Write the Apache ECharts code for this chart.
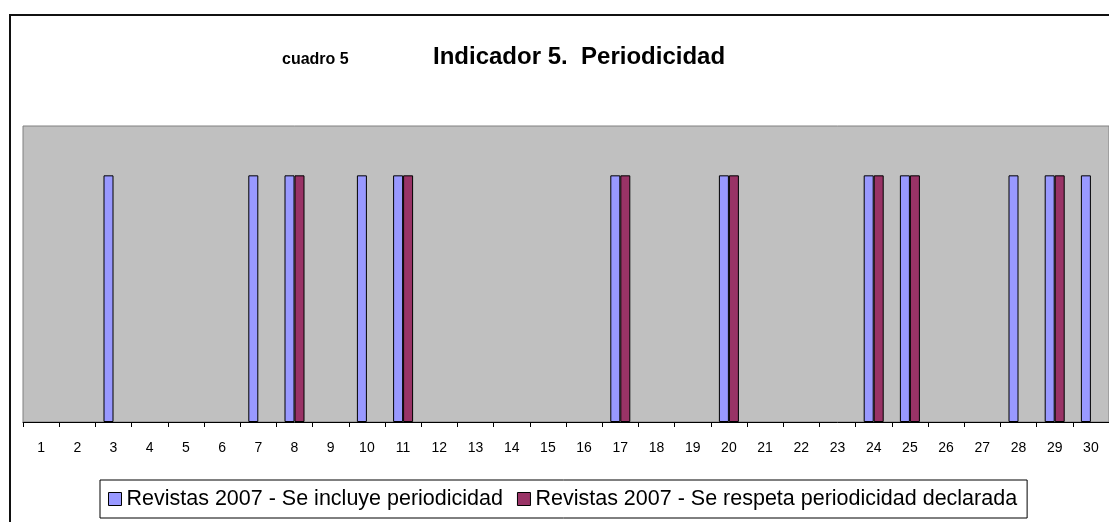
<!DOCTYPE html>
<html>
<head>
<meta charset="utf-8">
<script src="https://cdn.jsdelivr.net/npm/echarts@6/dist/echarts.min.js"></script>
<style>
  html, body { margin: 0; padding: 0; background: #fff; }
  #chart { width: 1109px; height: 522px; }
</style>
</head>
<body>
<div id="chart"></div>
<script>
// revistas 1..30
const categories = ['1','2','3','4','5','6','7','8','9','10','11','12','13','14','15',
  '16','17','18','19','20','21','22','23','24','25','26','27','28','29','30'];
// 1 = si, 0 = no
const incluye = [0,0,1,0,0,0,1,1,0,1,1,0,0,0,0,0,1,0,0,1,0,0,0,1,1,0,0,1,1,1];
const respeta = [0,0,0,0,0,0,0,1,0,0,1,0,0,0,0,0,1,0,0,1,0,0,0,1,1,0,0,0,1,0];

const font = 'Arial, "Liberation Sans", sans-serif';

// los ceros no se dibujan (como en excel)
function sinCeros(arr) {
  return arr.map(v => (v === 0 ? '-' : v));
}

var myChart = echarts.init(document.getElementById('chart'));
let option = {
  backgroundColor: '#fff',
  animation: false,
  title: [
    {
      text: 'Indicador 5.  Periodicidad',
      left: 433,
      top: 45,
      padding: 0,
      textStyle: { fontFamily: font, fontSize: 24, fontWeight: 'bold', color: '#000' }
    },
    {
      text: 'cuadro 5',
      left: 282,
      top: 52,
      padding: 0,
      textStyle: { fontFamily: font, fontSize: 16, fontWeight: 'bold', color: '#000' }
    }
  ],
  // marco exterior del grafico
  graphic: [
    {
      type: 'rect',
      shape: { x: 10, y: 15, width: 1200, height: 600 },
      style: { fill: 'none', stroke: '#111', lineWidth: 2 },
      silent: true
    }
  ],
  grid: {
    left: 23,
    right: 0,
    top: 126,
    bottom: 100,
    show: true,
    backgroundColor: '#C0C0C0',
    borderColor: '#808080',
    borderWidth: 1
  },
  legend: {
    left: 100,
    top: 480,
    padding: [8, 10, 8, 8],
    icon: 'rect',
    itemWidth: 13,
    itemHeight: 13,
    itemGap: 14,
    backgroundColor: '#fff',
    borderColor: '#000',
    borderWidth: 1,
    textStyle: { fontFamily: font, fontSize: 21.5, color: '#000', lineHeight: 22 },
    data: [
      { name: 'Revistas 2007 - Se incluye periodicidad', itemStyle: { borderColor: '#000', borderWidth: 1 } },
      { name: 'Revistas 2007 - Se respeta periodicidad declarada', itemStyle: { borderColor: '#000', borderWidth: 1 } }
    ]
  },
  xAxis: {
    type: 'category',
    data: categories,
    axisLine: { show: true, lineStyle: { color: '#000', width: 1 } },
    axisTick: { show: true, length: 5, alignWithLabel: false, interval: 0, lineStyle: { color: '#000', width: 1 } },
    axisLabel: { fontFamily: font, fontSize: 14, color: '#000', margin: 19, interval: 0 }
  },
  yAxis: {
    type: 'value',
    min: 0,
    max: 1.2,
    show: false,
    splitLine: { show: false }
  },
  series: [
    {
      name: 'Revistas 2007 - Se incluye periodicidad',
      type: 'bar',
      barWidth: 10,
      barGap: '0%',
      itemStyle: { color: '#9999FF', borderColor: '#000', borderWidth: 1 },
      data: sinCeros(incluye)
    },
    {
      name: 'Revistas 2007 - Se respeta periodicidad declarada',
      type: 'bar',
      barWidth: 10,
      barGap: '0%',
      itemStyle: { color: '#993366', borderColor: '#000', borderWidth: 1 },
      data: sinCeros(respeta)
    }
  ]
};
myChart.setOption(option);
</script>
</body>
</html>
